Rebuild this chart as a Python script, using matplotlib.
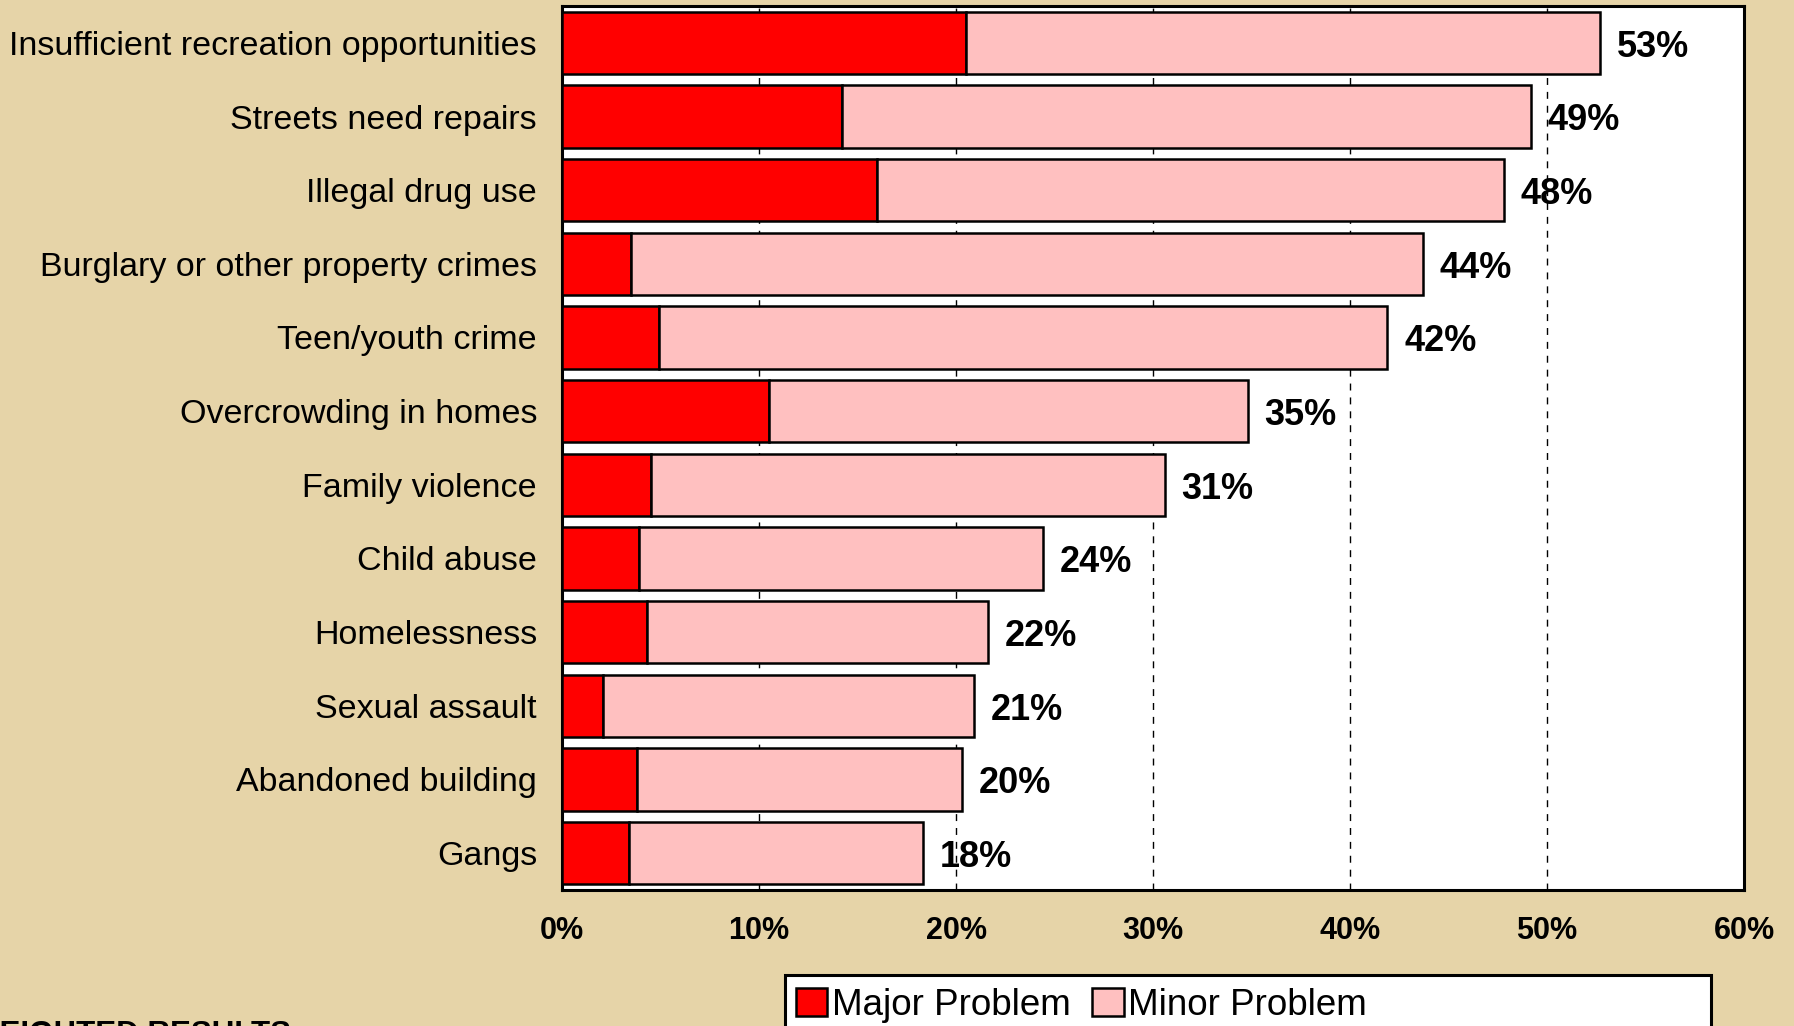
import numpy as np
import matplotlib
matplotlib.use("Agg")
import matplotlib.pyplot as plt
from matplotlib.patches import Rectangle, Patch

# data (percent)
categories = [
    "Insufficient recreation opportunities",
    "Streets need repairs",
    "Illegal drug use",
    "Burglary or other property crimes",
    "Teen/youth crime",
    "Overcrowding in homes",
    "Family violence",
    "Child abuse",
    "Homelessness",
    "Sexual assault",
    "Abandoned building",
    "Gangs",
]
major = [20.5, 14.2, 16.0, 3.5, 4.9, 10.5, 4.5, 3.9, 4.3, 2.1, 3.8, 3.4]
total = [52.7, 49.2, 47.8, 43.7, 41.9, 34.8, 30.6, 24.4, 21.6, 20.9, 20.3, 18.3]
minor = [t - m for t, m in zip(total, major)]
value_labels = ["53%", "49%", "48%", "44%", "42%", "35%", "31%", "24%", "22%", "21%", "20%", "18%"]
xticks = [0, 10, 20, 30, 40, 50, 60]

plt.rcParams["font.family"] = ["Liberation Sans", "DejaVu Sans"]

bg = "#E6D4A8"
fig = plt.figure(figsize=(17.94, 10.26), dpi=100, facecolor=bg)
ax = fig.add_axes([562 / 1794, 1 - 890 / 1026, (1744 - 562) / 1794, (890 - 6) / 1026])
ax.set_facecolor("white")

y = np.arange(len(categories))
ax.barh(y, major, height=0.85, color="#FF0000", edgecolor="black", linewidth=1.8, zorder=3)
ax.barh(y, minor, left=major, height=0.85, color="#FFC0C0", edgecolor="black", linewidth=1.8, zorder=3)

for yi, t, lab in zip(y, total, value_labels):
    ax.text(t + 0.85, yi + 0.06, lab, va="center", ha="left", fontsize=26, fontweight="bold", zorder=4)

ax.set_xlim(0, 60)
ax.set_ylim(len(categories) - 0.5, -0.5)
ax.set_xticks(xticks)
ax.set_xticklabels([f"{v}%" for v in xticks], fontsize=22, fontweight="bold")
ax.set_yticks(y)
ax.set_yticklabels(categories, fontsize=24.5)
ax.tick_params(axis="both", length=0)
ax.tick_params(axis="x", pad=19)
ax.tick_params(axis="y", pad=18)

ax.grid(axis="x", linestyle=(0, (5, 5)), color="black", linewidth=1, zorder=1)
for s in ax.spines.values():
    s.set_linewidth(2.2)

# legend box (wider than its content, runs off the bottom)
fig.patches.append(Rectangle((785 / 1794, -0.05), (1711 - 785) / 1794, 0.05 + 1 - 975 / 1026,
                             transform=fig.transFigure, facecolor="white", edgecolor="black",
                             linewidth=2.2, zorder=1))
handles = [Patch(facecolor="#FF0000", edgecolor="black", linewidth=1.8),
           Patch(facecolor="#FFC0C0", edgecolor="black", linewidth=1.8)]
leg = fig.legend(handles, ["Major Problem", "Minor Problem"], loc="upper left",
                 bbox_to_anchor=(794 / 1794, 1 - 986 / 1026), ncol=2, frameon=False,
                 fontsize=26.5, handlelength=0.85, handleheight=0.8, handletextpad=0.12,
                 columnspacing=0.6, borderpad=0.05, borderaxespad=0)

fig.text(-0.017, 1 - 1043 / 1026, "WEIGHTED RESULTS", fontsize=22.5, fontweight="bold",
         va="baseline", ha="left")

fig.savefig("out.png", dpi=100, facecolor=bg)
